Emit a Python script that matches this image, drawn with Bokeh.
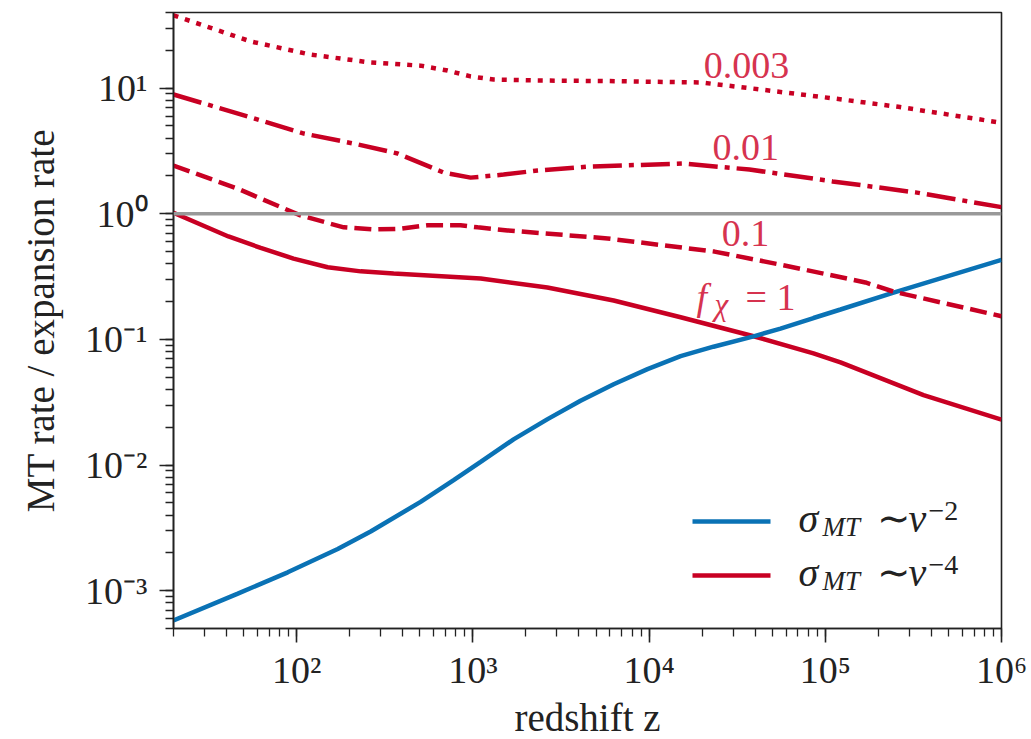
from bokeh.plotting import figure
from bokeh.models import Range1d, Span, Label, BoxAnnotation, CustomJSTickFormatter
from bokeh.embed import file_html
from bokeh.resources import INLINE

# ---- data ----
z_blue = [20, 46, 89, 171, 263, 505, 778, 1107, 1702, 2655, 4083, 6295, 9795, 15100, 23200,
          39200, 55700, 85700, 122000, 244000, 1000000]
y_blue = [5.79e-4, 9.42e-4, 1.40e-3, 2.15e-3, 2.96e-3, 5.09e-3, 7.59e-3, 0.0106, 0.0160, 0.0232,
          0.0325, 0.0440, 0.0580, 0.0735, 0.0875, 0.1057, 0.122, 0.148, 0.173, 0.236, 0.43]

z_f1 = [20, 41, 62.5, 96, 150, 231, 355, 1107, 2646, 6295, 15100, 39200, 85700, 122000, 361000, 1000000]
y_f1 = [1.02, 0.66, 0.535, 0.44, 0.375, 0.348, 0.335, 0.305, 0.259, 0.204, 0.150, 0.106, 0.0774,
        0.0656, 0.036, 0.023]

z_f01 = [20, 46, 105, 185, 274, 389, 553, 851, 1064, 1575, 5820, 23500, 58700, 169000, 244000, 1000000]
y_f01 = [2.42, 1.59, 0.97, 0.78, 0.75, 0.76, 0.81, 0.81, 0.78, 0.737, 0.636, 0.50, 0.388, 0.284,
         0.24, 0.153]

z_f001 = [20, 46, 110, 211, 374, 683, 971, 1494, 2329, 4654, 15700, 37100, 110000, 325000, 1000000]
y_f001 = [8.9, 6.3, 4.35, 3.62, 3.02, 2.13, 1.94, 2.05, 2.21, 2.38, 2.51, 2.25, 1.81, 1.48, 1.13]

z_f0003 = [20, 55, 120, 263, 505, 719, 971, 1312, 2329, 5305, 19600, 37100, 110000, 260000, 1000000]
y_f0003 = [38, 23.5, 18.5, 16.0, 15.1, 13.8, 12.4, 11.7, 11.5, 11.4, 11.1, 10.0, 8.3, 7.1, 5.3]

curve_labels = ["0.003", "0.01", "0.1"]
curve_label_z = [35700, 35400, 35300]
curve_label_y = [12.4, 2.75, 0.57]

RED = "#c80023"
BLUE = "#0a72b5"
LRED = "#d6334f"
INK = "#222222"
FONT = "Liberation Serif"
LW = 4.5

p = figure(x_axis_type="log", y_axis_type="log",
           x_range=Range1d(20, 1e6), y_range=Range1d(5e-4, 40),
           frame_width=828, frame_height=616,
           min_border_left=173, min_border_top=12, min_border_right=30, min_border_bottom=111,
           output_backend="svg", toolbar_location=None)

p.background_fill_color = "white"
p.border_fill_color = "white"
p.outline_line_color = INK
p.outline_line_width = 1.6
p.xgrid.visible = False
p.ygrid.visible = False

fmt = CustomJSTickFormatter(code="""
const m = {"-":"\u207b","0":"\u2070","1":"\u00b9","2":"\u00b2","3":"\u00b3","4":"\u2074","5":"\u2075","6":"\u2076","7":"\u2077","8":"\u2078","9":"\u2079"};
const e = Math.round(Math.log10(tick));
return "10" + String(e).split("").map(c => m[c]).join("");
""")

for ax in (p.xaxis[0], p.yaxis[0]):
    ax.formatter = fmt
    ax.major_label_text_font = FONT
    ax.major_label_text_font_size = "38px"
    ax.major_label_text_color = INK
    ax.axis_label_text_font = FONT
    ax.axis_label_text_font_size = "39px"
    ax.axis_label_text_font_style = "normal"
    ax.axis_label_text_color = INK
    ax.axis_line_color = INK
    ax.axis_line_width = 1.6
    ax.major_tick_line_color = INK
    ax.major_tick_line_width = 1.6
    ax.minor_tick_line_color = INK
    ax.minor_tick_line_width = 1.3
    ax.major_tick_out = 14
    ax.major_tick_in = 0
    ax.minor_tick_out = 8
    ax.minor_tick_in = 0

p.xaxis.axis_label = "redshift z"
p.yaxis.axis_label = "MT rate / expansion rate"
p.xaxis.major_label_standoff = 6
p.xaxis.axis_label_standoff = 2
p.yaxis.major_label_standoff = 12
p.yaxis.axis_label_standoff = 20

p.add_layout(Span(location=1.0, dimension="width", line_color="#999999", line_width=3.5))

p.line(z_f1, y_f1, line_color=RED, line_width=LW)
p.line(z_blue, y_blue, line_color=BLUE, line_width=LW)
p.line(z_f01, y_f01, line_color=RED, line_width=LW, line_dash="17 7")
p.line(z_f001, y_f001, line_color=RED, line_width=LW, line_dash="29 7 5 7")
p.line(z_f0003, y_f0003, line_color=RED, line_width=LW, line_dash="5 7")

for t, zx, yy in zip(curve_labels, curve_label_z, curve_label_y):
    p.add_layout(Label(x=zx, y=yy, y_offset=11, text=t, text_font=FONT, text_font_size="38px",
                       text_color=LRED, text_align="center", text_baseline="alphabetic"))

# f_chi = 1 label
p.add_layout(Label(x=18600, y=0.179, y_offset=11, text="f", text_font=FONT, text_font_size="38px",
                   text_font_style="italic", text_color=LRED, text_baseline="alphabetic"))
p.add_layout(Label(x=23500, y=0.162, y_offset=9, text="\u03c7", text_font=FONT, text_font_size="31px",
                   text_font_style="italic", text_color=LRED, text_baseline="alphabetic"))
p.add_layout(Label(x=35300, y=0.179, y_offset=11, text="= 1", text_font=FONT, text_font_size="38px",
                   text_color=LRED, text_baseline="alphabetic"))

# legend (frame-relative screen units)
def legend_entry(color, sy, exp):
    p.add_layout(BoxAnnotation(left=519, right=597, bottom=sy - 2.25, top=sy + 2.25,
                               left_units="screen", right_units="screen",
                               bottom_units="screen", top_units="screen",
                               fill_color=color, fill_alpha=1.0, line_color=None))
    base = sy - 8
    p.add_layout(Label(x=625, y=base + 11, x_units="screen", y_units="screen", text="\u03c3",
                       text_font=FONT, text_font_size="40px", text_font_style="italic",
                       text_color=INK, text_baseline="alphabetic"))
    p.add_layout(Label(x=649, y=base - 5 + 8, x_units="screen", y_units="screen", text="MT",
                       text_font=FONT, text_font_size="27px", text_font_style="italic",
                       text_color=INK, text_baseline="alphabetic"))
    p.add_layout(Label(x=703, y=base + 11, x_units="screen", y_units="screen", text="\u223c",
                       text_font=FONT, text_font_size="40px",
                       text_color=INK, text_baseline="alphabetic"))
    p.add_layout(Label(x=735, y=base + 11, x_units="screen", y_units="screen", text="v",
                       text_font=FONT, text_font_size="40px", text_font_style="italic",
                       text_color=INK, text_baseline="alphabetic"))
    p.add_layout(Label(x=755, y=base + 11 + 8, x_units="screen", y_units="screen", text=exp,
                       text_font=FONT, text_font_size="28px",
                       text_color=INK, text_baseline="alphabetic"))

legend_entry(BLUE, 107, "\u22122")
legend_entry(RED, 53, "\u22124")

open("out.html", "w").write(file_html(p, INLINE))
